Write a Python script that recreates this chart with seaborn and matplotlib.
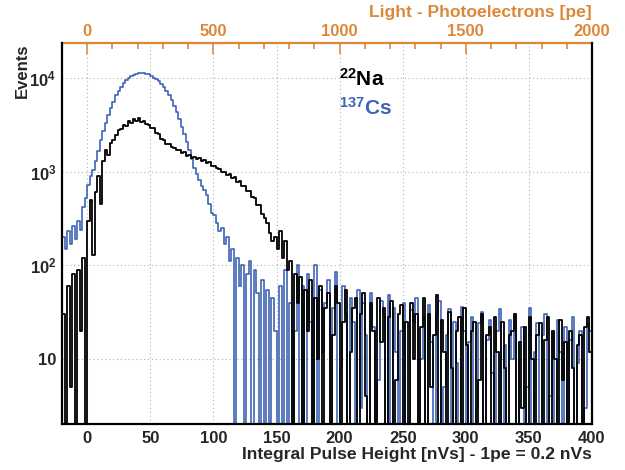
import numpy as np
import pandas as pd
import seaborn as sns
import matplotlib.pyplot as plt
from matplotlib.ticker import FixedLocator, MultipleLocator, LogLocator, NullFormatter

# histogram binning (nVs)
bin_lo, bin_hi, bin_w = -20, 400, 2

# 137Cs counts per 2 nVs bin, 20 nVs per row
cs137 = [
    200, 150, 230, 170, 260, 190, 300, 240, 420, 520,
    720, 900, 1050, 1300, 1650, 2150, 2700, 3300, 4000, 4800,
    5600, 6500, 7300, 8100, 8800, 9400, 9900, 10400, 10800, 11100,
    11300, 11400, 11300, 11100, 10900, 10500, 10100, 9700, 9200, 8600,
    8000, 7300, 6600, 5800, 5000, 4300, 3600, 3000, 2500, 2050,
    1700, 1350, 1100, 950, 820, 700, 640, 560, 450, 360,
    340, 280, 230, 250, 170, 200, 110, 150, 0, 120,
    60, 100, 0, 80, 110, 0, 90, 50, 0, 70,
    0, 55, 0, 45, 20, 0, 60, 0, 90, 0,
    40, 0, 20, 100, 0, 60, 0, 80, 25, 0,
    100, 0, 55, 12, 40, 70, 0, 35, 85, 0,
    8, 60, 30, 0, 45, 25, 0, 55, 3, 40,
    18, 0, 50, 22, 0, 6, 42, 30, 0, 48,
    0, 35, 12, 0, 20, 40, 2, 0, 33, 25,
    45, 0, 10, 28, 0, 38, 15, 0, 30, 42,
    0, 5, 18, 34, 0, 25, 9, 0, 36, 20,
    0, 15, 28, 0, 3, 24, 32, 0, 16, 26,
    7, 0, 20, 34, 0, 14, 0, 26, 10, 30,
    0, 15, 22, 0, 5, 35, 0, 12, 24, 0,
    18, 30, 0, 4, 20, 0, 26, 12, 0, 22,
    0, 16, 28, 0, 9, 20, 0, 3, 24, 20,
]

# 22Na counts per 2 nVs bin
na22 = [
    30, 0, 60, 5, 80, 0, 90, 20, 120, 0,
    300, 500, 130, 600, 900, 450, 1300, 1700, 1500, 2000,
    2200, 2450, 2750, 2850, 3150, 3100, 3450, 3300, 3600, 3450,
    3700, 3400, 3450, 3200, 3150, 2900, 2900, 2600, 2550, 2250,
    2200, 1980, 1950, 1820, 1780, 1680, 1700, 1580, 1600, 1480,
    1520, 1400, 1430, 1360, 1380, 1300, 1330, 1250, 1260, 1160,
    1150, 1080, 1070, 990, 1000, 930, 940, 860, 870, 780,
    790, 700, 700, 620, 620, 540, 520, 440, 440, 350,
    320, 280, 220, 180, 200, 150, 230, 120, 180, 90,
    110, 0, 80, 40, 75, 0, 55, 20, 70, 0,
    45, 10, 60, 0, 35, 50, 0, 18, 60, 40,
    0, 25, 55, 0, 12, 35, 45, 0, 30, 50,
    4, 0, 40, 20, 0, 45, 15, 35, 0, 28,
    42, 0, 6, 30, 38, 0, 25, 0, 40, 10,
    30, 0, 22, 45, 0, 30, 5, 18, 48, 0,
    26, 12, 0, 32, 8, 0, 20, 28, 0, 35,
    14, 0, 20, 25, 0, 6, 30, 0, 18, 22,
    0, 28, 12, 0, 25, 8, 0, 18, 20, 30,
    0, 15, 3, 22, 0, 28, 10, 0, 18, 24,
    0, 16, 28, 0, 20, 10, 0, 26, 6, 15,
    0, 20, 8, 0, 14, 18, 0, 22, 28, 12,
]

y_ticks = [10, 100, 1000, 10000]
y_tick_labels = ['10', r'$10^{2}$', r'$10^{3}$', r'$10^{4}$']
pe_ticks = [0, 500, 1000, 1500, 2000]

blue = '#3f63b5'
orange = '#dc8838'

sns.set_style('white')
plt.rcParams['font.family'] = ['Liberation Sans', 'DejaVu Sans']
plt.rcParams['font.weight'] = 'bold'
plt.rcParams['mathtext.fontset'] = 'custom'
plt.rcParams['mathtext.rm'] = 'Liberation Sans:bold'
plt.rcParams['mathtext.bf'] = 'Liberation Sans:bold'
plt.rcParams['mathtext.default'] = 'rm'

edges = np.arange(bin_lo, bin_hi + bin_w, bin_w)
centers = edges[:-1] + bin_w / 2
assert len(cs137) == len(centers) and len(na22) == len(centers), (len(cs137), len(na22), len(centers))

cs_df = pd.DataFrame({'pulse': centers, 'events': cs137})
na_df = pd.DataFrame({'pulse': centers, 'events': na22})

fig = plt.figure(figsize=(6.25, 4.7), dpi=100)
ax = fig.add_axes([62 / 625, 46 / 470, 530 / 625, 381 / 470])

sns.histplot(data=cs_df, x='pulse', weights='events', binwidth=bin_w, binrange=(bin_lo, bin_hi),
             element='step', fill=False, color=blue, linewidth=1.2, ax=ax)
sns.histplot(data=na_df, x='pulse', weights='events', binwidth=bin_w, binrange=(bin_lo, bin_hi),
             element='step', fill=False, color='black', linewidth=1.3, ax=ax)

ax.set_yscale('log')
ax.set_xlim(-20, 400)
ax.set_ylim(2.02, 2.36e4)
ax.set_xlabel('')
ax.set_ylabel('')

ax.xaxis.set_major_locator(MultipleLocator(50))
ax.xaxis.set_minor_locator(MultipleLocator(10))
ax.yaxis.set_major_locator(FixedLocator(y_ticks))
ax.yaxis.set_minor_locator(LogLocator(base=10, subs=np.arange(2, 10)))
ax.yaxis.set_minor_formatter(NullFormatter())
ax.set_yticklabels(y_tick_labels)

ax.tick_params(axis='both', which='both', direction='in', labelsize=12, width=1.2,
               top=False, right=False)
ax.tick_params(axis='y', which='major', length=12, pad=4)
ax.tick_params(axis='y', which='minor', length=6)
ax.tick_params(axis='x', which='major', length=8, pad=5)
ax.tick_params(axis='x', which='minor', length=4)

ax.grid(True, which='major', linestyle=(0, (1, 2.5)), color='#b0b0b0', linewidth=0.8)

for side in ['left', 'bottom', 'right']:
    ax.spines[side].set_linewidth(1.6)
    ax.spines[side].set_color('black')
ax.spines['top'].set_visible(False)

# photoelectron scale on top: 1 pe = 0.2 nVs
top = ax.secondary_xaxis('top', functions=(lambda v: v * 5, lambda p: p / 5))
top.xaxis.set_major_locator(FixedLocator(pe_ticks))
top.xaxis.set_minor_locator(MultipleLocator(100))
top.tick_params(axis='x', which='both', direction='in', colors=orange, labelsize=12,
                width=1.2, pad=3)
top.tick_params(axis='x', which='major', length=8)
top.tick_params(axis='x', which='minor', length=4)
top.spines['top'].set_color(orange)
top.spines['top'].set_linewidth(1.6)

fig.text(592 / 625, 1 - 13 / 470, 'Light - Photoelectrons [pe]', ha='right', va='center',
         color=orange, fontsize=12.6, fontweight='bold')
fig.text(592 / 625, 1 - 455 / 470, 'Integral Pulse Height [nVs] - 1pe = 0.2 nVs',
         ha='right', va='center', fontsize=12.6, fontweight='bold')
fig.text(22 / 625, 1 - 43 / 470, 'Events', rotation=90, ha='center', va='top',
         fontsize=12, fontweight='bold')

fig.text(339 / 625, 1 - 86 / 470, r'$^{22}$Na', ha='left', va='baseline',
         fontsize=15, fontweight='bold', color='black')
fig.text(339 / 625, 1 - 115 / 470, r'$^{137}$Cs', ha='left', va='baseline',
         fontsize=15, fontweight='bold', color=blue)

fig.savefig('out.png', dpi=100)
